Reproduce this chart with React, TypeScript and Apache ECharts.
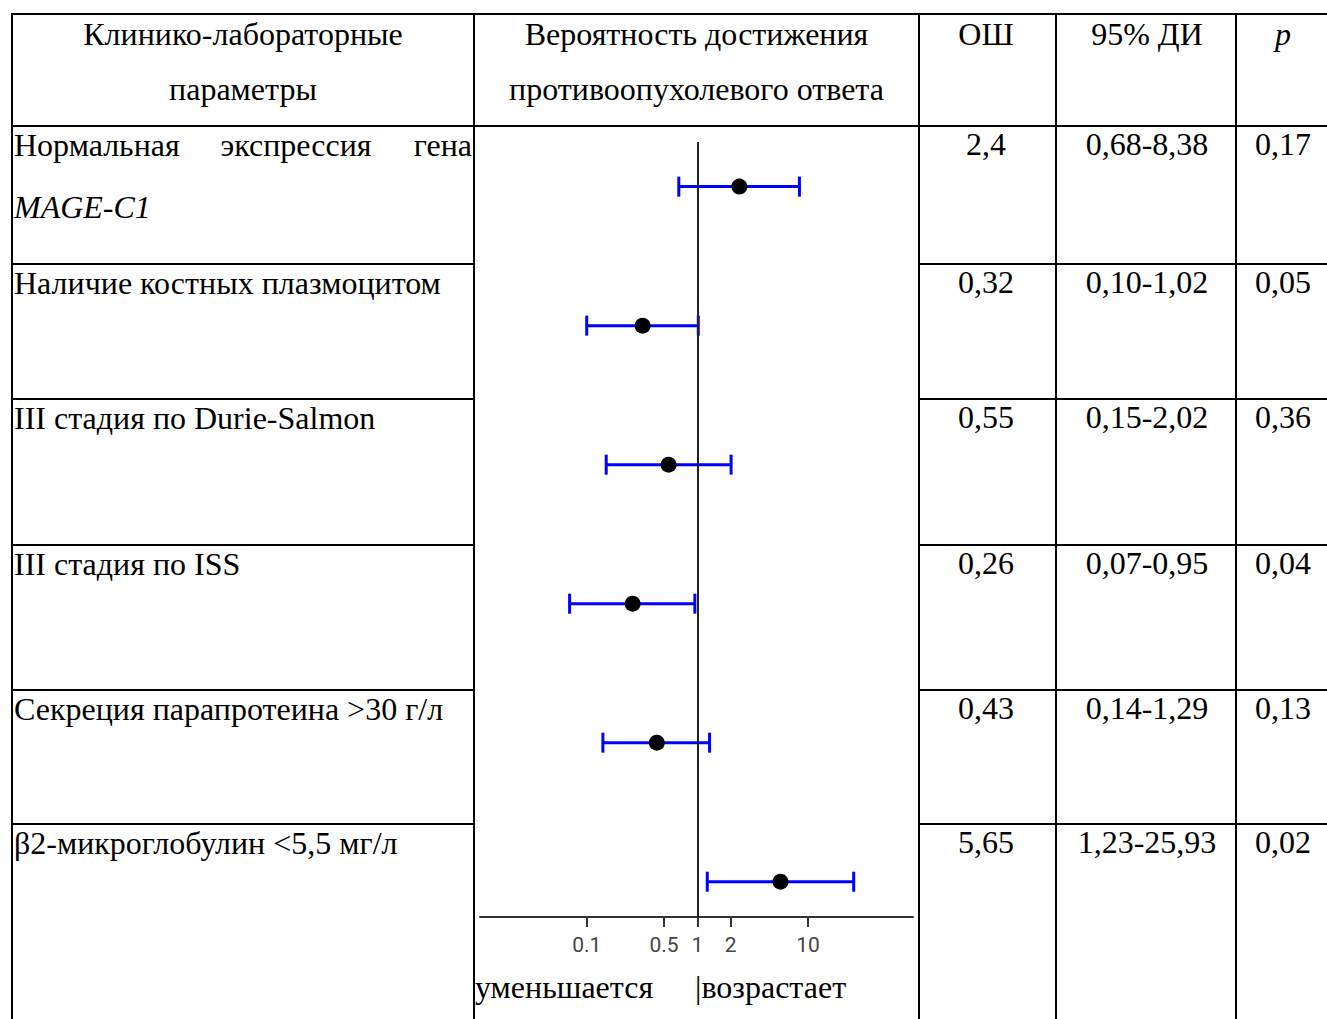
import React, { useEffect, useRef } from "react";
import * as echarts from "echarts";

// ---- data ----
const categories = [
  "Нормальная экспрессия гена MAGE-C1",
  "Наличие костных плазмоцитом",
  "III стадия по Durie-Salmon",
  "III стадия по ISS",
  "Секреция парапротеина >30 г/л",
  "β2-микроглобулин <5,5 мг/л",
];
const oddsRatio = [2.4, 0.32, 0.55, 0.26, 0.43, 5.65];
const ciLow = [0.68, 0.1, 0.15, 0.07, 0.14, 1.23];
const ciHigh = [8.38, 1.02, 2.02, 0.95, 1.29, 25.93];
const orLabels = ["2,4", "0,32", "0,55", "0,26", "0,43", "5,65"];
const ciLabels = ["0,68-8,38", "0,10-1,02", "0,15-2,02", "0,07-0,95", "0,14-1,29", "1,23-25,93"];
const pLabels = ["0,17", "0,05", "0,36", "0,04", "0,13", "0,02"];
const tickValues = [0.1, 0.5, 1, 2, 10];
const tickLabels = ["0.1", "0.5", "1", "2", "10"];
const headerCol1 = ["Клинико-лабораторные", "параметры"];
const headerCol2 = ["Вероятность достижения", "противоопухолевого ответа"];
const headerOR = "ОШ";
const headerCI = "95% ДИ";
const headerP = "p";
const footerLeft = "уменьшается";
const footerRight = "|возрастает";

// ---- layout ----
const W = 1327;
const H = 1019;
const SERIF = '"Liberation Serif", "Times New Roman", serif';
const FS = 32;
const colX = [12, 474, 919, 1056, 1236];
const tableRight = 1330;
const topY = 14;
const headerBottom = 126;
const rowTops = [126, 264, 399, 545, 690, 824];
const colCenter3 = 986;
const colCenter4 = 1147;
const colCenter5 = 1283;

const lg = (v: number) => Math.log10(v);

function txt(text: string, x: number, baseline: number, align: string = "left", italic = false, size = FS) {
  return {
    type: "text",
    silent: true,
    style: {
      text,
      x,
      y: baseline - 0.34 * size,
      font: `${italic ? "italic " : ""}${size}px ${SERIF}`,
      fill: "#000",
      textAlign: align,
      textVerticalAlign: "middle",
    },
  };
}

function ln(x1: number, y1: number, x2: number, y2: number) {
  return {
    type: "line",
    silent: true,
    shape: { x1, y1, x2, y2 },
    style: { stroke: "#000", lineWidth: 2 },
  };
}

function buildGraphic() {
  const els: any[] = [];
  // table lines
  els.push(ln(colX[0], topY, tableRight, topY));
  els.push(ln(colX[0], headerBottom, tableRight, headerBottom));
  rowTops.slice(1).forEach((y) => {
    els.push(ln(colX[0], y, colX[1], y));
    els.push(ln(colX[2], y, tableRight, y));
  });
  colX.forEach((x) => els.push(ln(x, topY - 1, x, H)));

  // header
  const hb1 = topY + 31;
  const hb2 = 100;
  els.push(txt(headerCol1[0], (colX[0] + colX[1]) / 2, hb1, "center"));
  els.push(txt(headerCol1[1], (colX[0] + colX[1]) / 2, hb2, "center"));
  els.push(txt(headerCol2[0], (colX[1] + colX[2]) / 2, hb1, "center"));
  els.push(txt(headerCol2[1], (colX[1] + colX[2]) / 2, hb2, "center"));
  els.push(txt(headerOR, colCenter3, hb1, "center"));
  els.push(txt(headerCI, colCenter4, hb1, "center"));
  els.push(txt(headerP, colCenter5, hb1, "center", true));

  // rows
  categories.forEach((c, i) => {
    const base = rowTops[i] + 30;
    if (i === 0) {
      const words = c.split(" ");
      els.push(txt(words[0], 14, base, "left"));
      els.push(txt(words[1], 296, base, "center"));
      els.push(txt(words[2], 472, base, "right"));
      els.push(txt(words[3], 14, base + 62, "left", true));
    } else {
      els.push(txt(c, 14, base, "left"));
    }
    els.push(txt(orLabels[i], colCenter3, base - 1, "center"));
    els.push(txt(ciLabels[i], colCenter4, base - 1, "center"));
    els.push(txt(pLabels[i], colCenter5, base - 1, "center"));
  });

  // footer
  els.push(txt(footerLeft, 475, 998, "left"));
  els.push(txt(footerRight, 695, 998, "left"));
  return els;
}

export default function App() {
  const ref = useRef<HTMLDivElement>(null);
  useEffect(() => {
    if (!ref.current) return;
    const chart = echarts.init(ref.current, null, { renderer: "svg" });
    const rows = categories.map((_, i) => i + 1);
    const barData = rows.map((r, i) => [lg(ciLow[i]), lg(ciHigh[i]), r]);
    const pointData = rows.map((r, i) => [lg(oddsRatio[i]), r]);
    const tickPos = tickValues.map(lg);

    chart.setOption({
      animation: false,
      backgroundColor: "#fff",
      grid: {
        left: 480,
        right: W - 913,
        top: 142,
        bottom: H - 917,
        containLabel: false,
        outerBoundsMode: "none",
      },
      xAxis: {
        type: "value",
        min: -1.965,
        max: 1.95,
        splitLine: { show: false },
        axisLine: { onZero: false, lineStyle: { color: "#333", width: 2 } },
        axisTick: {
          show: true,
          customValues: tickPos,
          length: 10,
          lineStyle: { color: "#333", width: 2 },
        },
        axisLabel: {
          customValues: tickPos,
          margin: 17,
          color: "#444",
          fontSize: 21,
          fontFamily: "Roboto, 'DejaVu Sans', sans-serif",
          formatter: (v: number) => {
            let best = 0;
            tickPos.forEach((p, k) => {
              if (Math.abs(p - v) < Math.abs(tickPos[best] - v)) best = k;
            });
            return tickLabels[best];
          },
        },
      },
      yAxis: {
        type: "value",
        inverse: true,
        min: 0.679,
        max: 6.254,
        show: false,
        splitLine: { show: false },
      },
      series: [
        {
          type: "custom",
          name: "ci",
          silent: true,
          z: 2,
          encode: { x: [0, 1], y: 2 },
          data: barData,
          renderItem: (params: any, api: any) => {
            const y = api.value(2);
            const a = api.coord([api.value(0), y]);
            const b = api.coord([api.value(1), y]);
            const st = { stroke: "#0000ff", lineWidth: 3 };
            const cap = 10;
            return {
              type: "group",
              children: [
                { type: "line", shape: { x1: a[0], y1: a[1], x2: b[0], y2: b[1] }, style: st },
                { type: "line", shape: { x1: a[0], y1: a[1] - cap, x2: a[0], y2: a[1] + cap }, style: st },
                { type: "line", shape: { x1: b[0], y1: b[1] - cap, x2: b[0], y2: b[1] + cap }, style: st },
              ],
            };
          },
        },
        {
          type: "scatter",
          name: "or",
          silent: true,
          z: 4,
          symbol: "circle",
          symbolSize: 16,
          itemStyle: { color: "#000", opacity: 1 },
          data: pointData,
          markLine: {
            silent: true,
            symbol: "none",
            label: { show: false },
            lineStyle: { color: "#222", width: 2, type: "solid", opacity: 1 },
            data: [{ xAxis: 0 }],
            z: 3,
          },
        },
      ],
      graphic: { elements: buildGraphic() },
    });
    return () => chart.dispose();
  }, []);
  return (
    <div
      ref={ref}
      style={{ position: "absolute", left: 0, top: 0, width: W, height: H, background: "#fff" }}
    />
  );
}
